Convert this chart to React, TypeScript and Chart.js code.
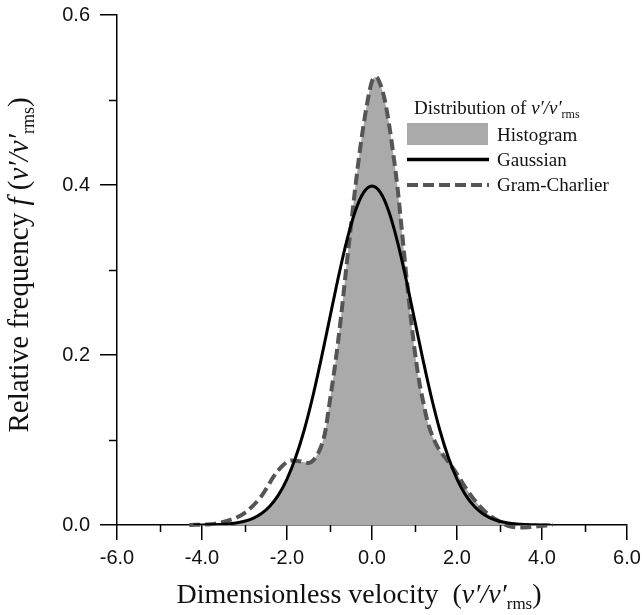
import React, { useEffect, useRef } from 'react';
import { Chart, registerables } from 'chart.js';
Chart.register(...registerables);

// ---- data ----
const histX = [-4.3, -3.8, -3.4, -3.0, -2.6, -2.3, -2.1, -1.95, -1.8, -1.6, -1.5, -1.35, -1.2, -1.1, -1.0, -0.9, -0.8, -0.7, -0.6, -0.5, -0.4, -0.3, -0.2, -0.1, 0.0, 0.1, 0.2, 0.3, 0.4, 0.5, 0.6, 0.7, 0.8, 0.9, 1.0, 1.1, 1.2, 1.3, 1.5, 1.8, 2.0, 2.2, 2.5, 2.7, 3.0, 3.3];
const histY = [0.0, 0.0003, 0.0012, 0.0044, 0.013, 0.03, 0.045, 0.062, 0.073, 0.074, 0.073, 0.078, 0.092, 0.11, 0.143, 0.177, 0.215, 0.258, 0.305, 0.35, 0.394, 0.435, 0.47, 0.5, 0.522, 0.527, 0.518, 0.5, 0.472, 0.437, 0.397, 0.348, 0.297, 0.25, 0.207, 0.172, 0.146, 0.123, 0.096, 0.074, 0.06, 0.044, 0.024, 0.014, 0.004, 0.0];

const gaussX = [-4.2, -4.0, -3.8, -3.6, -3.4, -3.2, -3.0, -2.8, -2.6, -2.4, -2.2, -2.0, -1.8, -1.6, -1.4, -1.2, -1.0, -0.8, -0.6, -0.4, -0.2, 0.0, 0.2, 0.4, 0.6, 0.8, 1.0, 1.2, 1.4, 1.6, 1.8, 2.0, 2.2, 2.4, 2.6, 2.8, 3.0, 3.2, 3.4, 3.6, 3.8, 4.0, 4.2];
const gaussY = [0.0001, 0.0001, 0.0003, 0.0006, 0.0012, 0.0024, 0.0044, 0.0079, 0.0136, 0.0224, 0.0355, 0.054, 0.079, 0.1109, 0.1497, 0.1942, 0.242, 0.2897, 0.3332, 0.3683, 0.391, 0.3989, 0.391, 0.3683, 0.3332, 0.2897, 0.242, 0.1942, 0.1497, 0.1109, 0.079, 0.054, 0.0355, 0.0224, 0.0136, 0.0079, 0.0044, 0.0024, 0.0012, 0.0006, 0.0003, 0.0001, 0.0001];

const gcX = [-4.3, -3.8, -3.4, -3.0, -2.6, -2.3, -2.1, -1.9, -1.7, -1.5, -1.35, -1.2, -1.1, -1.0, -0.9, -0.8, -0.7, -0.6, -0.5, -0.4, -0.3, -0.2, -0.1, 0.0, 0.1, 0.2, 0.3, 0.4, 0.5, 0.6, 0.7, 0.8, 0.9, 1.0, 1.1, 1.2, 1.3, 1.5, 1.8, 2.0, 2.2, 2.5, 2.7, 3.0, 3.2, 3.5, 3.8, 4.0, 4.25];
const gcY = [0.0, 0.001, 0.005, 0.014, 0.034, 0.058, 0.07, 0.076, 0.075, 0.073, 0.078, 0.092, 0.11, 0.143, 0.177, 0.215, 0.258, 0.305, 0.35, 0.394, 0.435, 0.47, 0.5, 0.522, 0.527, 0.518, 0.5, 0.472, 0.437, 0.397, 0.348, 0.297, 0.25, 0.207, 0.172, 0.146, 0.123, 0.096, 0.074, 0.06, 0.044, 0.024, 0.014, 0.004, -0.001, -0.003, -0.002, -0.001, 0.0];

const minorXTicks = [-5, -3, -1, 1, 3, 5];
const minorYTicks = [0.1, 0.3, 0.5];
const seriesLabels = ['Histogram', 'Gaussian', 'Gram-Charlier'];

const SERIF = '"Liberation Serif", "Times New Roman", "DejaVu Serif", serif';
const SANS = '"Liberation Sans", Arial, sans-serif';

type Seg = { t: string; i?: boolean; s?: boolean };

const yTitle: Seg[] = [
  { t: 'Relative frequency ' },
  { t: 'f', i: true },
  { t: ' (' },
  { t: 'v\u2032/v\u2032', i: true },
  { t: 'rms', s: true },
  { t: ')' },
];
const xTitle: Seg[] = [
  { t: 'Dimensionless velocity  (' },
  { t: 'v\u2032/v\u2032', i: true },
  { t: 'rms', s: true },
  { t: ')' },
];
const legendTitle: Seg[] = [
  { t: 'Distribution of ' },
  { t: 'v\u2032/v\u2032', i: true },
  { t: 'rms', s: true },
];

function segFont(seg: Seg, size: number) {
  const sz = seg.s ? Math.round(size * 0.62) : size;
  return `${seg.i ? 'italic ' : ''}${sz}px ${SERIF}`;
}
function richWidth(ctx: CanvasRenderingContext2D, segs: Seg[], size: number) {
  let w = 0;
  for (const s of segs) {
    ctx.font = segFont(s, size);
    w += ctx.measureText(s.t).width;
  }
  return w;
}
function drawRich(ctx: CanvasRenderingContext2D, segs: Seg[], x: number, y: number, size: number, align: 'left' | 'center') {
  let cx = align === 'center' ? x - richWidth(ctx, segs, size) / 2 : x;
  ctx.textAlign = 'left';
  ctx.textBaseline = 'alphabetic';
  for (const s of segs) {
    ctx.font = segFont(s, size);
    ctx.fillText(s.t, cx, s.s ? y + size * 0.22 : y);
    cx += ctx.measureText(s.t).width;
  }
}

const overlay = {
  id: 'overlay',
  afterDraw(chart: any) {
    const ctx: CanvasRenderingContext2D = chart.ctx;
    const xs = chart.scales.x;
    const ys = chart.scales.y;
    const { left, bottom } = chart.chartArea;
    ctx.save();
    ctx.strokeStyle = '#000';
    ctx.lineWidth = 1.5;
    ctx.setLineDash([]);
    for (const v of minorXTicks) {
      const px = Math.round(xs.getPixelForValue(v)) + 0.5;
      ctx.beginPath();
      ctx.moveTo(px, bottom);
      ctx.lineTo(px, bottom + 7);
      ctx.stroke();
    }
    for (const v of minorYTicks) {
      const py = Math.round(ys.getPixelForValue(v)) + 0.5;
      ctx.beginPath();
      ctx.moveTo(left - 8, py);
      ctx.lineTo(left, py);
      ctx.stroke();
    }

    ctx.fillStyle = '#111';
    // x title
    drawRich(ctx, xTitle, 359, 603, 28, 'center');
    // y title
    ctx.save();
    ctx.translate(28, 265);
    ctx.rotate(-Math.PI / 2);
    drawRich(ctx, yTitle, 0, 0, 29, 'center');
    ctx.restore();

    // legend
    drawRich(ctx, legendTitle, 414, 114, 19, 'left');
    ctx.fillStyle = '#aaaaaa';
    ctx.fillRect(407, 123, 81, 22);
    ctx.strokeStyle = '#000';
    ctx.lineWidth = 3.5;
    ctx.beginPath();
    ctx.moveTo(407, 159.5);
    ctx.lineTo(489, 159.5);
    ctx.stroke();
    ctx.strokeStyle = '#555555';
    ctx.lineWidth = 4;
    ctx.setLineDash([11, 5]);
    ctx.beginPath();
    ctx.moveTo(407, 185);
    ctx.lineTo(489, 185);
    ctx.stroke();
    ctx.setLineDash([]);
    ctx.fillStyle = '#111';
    ctx.font = `19px ${SERIF}`;
    ctx.textAlign = 'left';
    ctx.textBaseline = 'alphabetic';
    ctx.fillText(seriesLabels[0], 497, 141);
    ctx.fillText(seriesLabels[1], 497, 166);
    ctx.fillText(seriesLabels[2], 497, 191);
    ctx.restore();
  },
};

export default function App() {
  const ref = useRef<HTMLCanvasElement>(null);
  useEffect(() => {
    if (!ref.current) return;
    const toPts = (xs: number[], ys: number[]) => xs.map((x, i) => ({ x, y: ys[i] }));
    const chart = new Chart(ref.current, {
      type: 'line',
      data: {
        datasets: [
          {
            label: seriesLabels[0],
            data: toPts(histX, histY),
            fill: 'origin',
            backgroundColor: '#aaaaaa',
            borderWidth: 0,
            borderColor: 'rgba(0,0,0,0)',
            pointRadius: 0,
            cubicInterpolationMode: 'monotone',
            order: 3,
          },
          {
            label: seriesLabels[1],
            data: toPts(gaussX, gaussY),
            fill: false,
            borderColor: '#000000',
            borderWidth: 3,
            pointRadius: 0,
            cubicInterpolationMode: 'monotone',
            order: 1,
          },
          {
            label: seriesLabels[2],
            data: toPts(gcX, gcY),
            fill: false,
            borderColor: '#555555',
            borderWidth: 4,
            borderDash: [11, 5],
            pointRadius: 0,
            cubicInterpolationMode: 'monotone',
            clip: false,
            order: 2,
          },
        ] as any,
      },
      options: {
        animation: false,
        responsive: true,
        maintainAspectRatio: false,
        layout: { padding: { top: 15, right: 15, left: 0, bottom: 0 } },
        plugins: { legend: { display: false }, tooltip: { enabled: false } },
        scales: {
          x: {
            type: 'linear',
            min: -6,
            max: 6,
            ticks: {
              stepSize: 2,
              autoSkip: false,
              maxRotation: 0,
              padding: 6,
              color: '#111',
              font: { family: SANS, size: 20 },
              callback: (v: any) => Number(v).toFixed(1),
            },
            grid: { display: true, drawOnChartArea: false, drawTicks: true, tickLength: 15, color: '#000', lineWidth: 1.5 },
            border: { display: true, color: '#000', width: 1.5 },
            afterFit: (s: any) => { s.height = 90; s.paddingLeft = 0; s.paddingRight = 0; },
          },
          y: {
            type: 'linear',
            min: 0,
            max: 0.6,
            ticks: {
              stepSize: 0.2,
              padding: 10,
              color: '#111',
              font: { family: SANS, size: 20 },
              callback: (v: any) => Number(v).toFixed(1),
            },
            grid: { display: true, drawOnChartArea: false, drawTicks: true, tickLength: 17, color: '#000', lineWidth: 1.5 },
            border: { display: true, color: '#000', width: 1.5 },
            afterFit: (s: any) => { s.width = 117; s.paddingTop = 0; s.paddingBottom = 0; },
          },
        } as any,
      },
      plugins: [overlay],
    });
    return () => chart.destroy();
  }, []);
  return (
    <div style={{ position: 'fixed', left: 0, top: 0, width: 642, height: 615 }}>
      <canvas ref={ref} />
    </div>
  );
}
